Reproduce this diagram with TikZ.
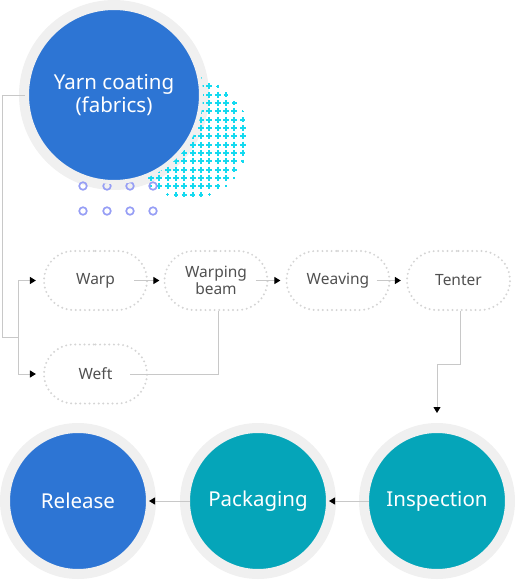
\documentclass[tikz,border=0pt]{standalone}
\usepackage{fontspec}
\setmainfont{Noto Sans}
\usetikzlibrary{arrows.meta,calc,shapes.misc}
\definecolor{cblue}{RGB}{45,117,212}
\definecolor{cteal}{RGB}{5,165,185}
\definecolor{cring}{RGB}{240,240,240}
\definecolor{ccyan}{RGB}{20,218,240}
\definecolor{cpurple}{RGB}{150,158,245}
\definecolor{cline}{RGB}{200,200,200}
\definecolor{ctext}{RGB}{80,80,80}
\definecolor{cdot}{RGB}{212,212,212}
\begin{document}
\begin{tikzpicture}[x=1pt,y=-1pt,
  bigcircle/.style={circle, minimum size=146pt, inner sep=0pt, text=white,
    font=\fontsize{20.5}{24}\selectfont, draw=cring, line width=10pt},
  pill/.style={rounded rectangle, draw=cdot, line width=2.2pt,
    dash pattern=on 0pt off 4.6pt, line cap=round,
    minimum width=103pt, minimum height=59pt, inner sep=0pt,
    text=ctext, font=\fontsize{15.5}{15}\selectfont, align=center},
  link/.style={draw=cline, line width=1pt},
  arr/.style={link, -{Triangle[length=6pt,width=7pt,color=black]}},
  plus/.style={draw=ccyan},
  smallring/.style={draw=cpurple, line width=1.7pt}]
\useasboundingbox (0,0) rectangle (515,582);
% top decoration
\fill[cring] (114,95) circle (95);
\foreach \i in {0,...,15} {
  \foreach \j in {0,...,15} {
    \pgfmathsetmacro{\px}{134.4+8.33*\i}
    \pgfmathsetmacro{\py}{78+8.33*\j}
    \pgfmathsetmacro{\dd}{sqrt((\px-188)^2+(\py-138)^2)}
    \pgfmathsetmacro{\ss}{min(1,(64-\dd)/8)}
    \ifdim\ss pt>0.25pt
      \pgfmathsetmacro{\aa}{2.9*\ss}
      \pgfmathsetmacro{\ww}{1.0+1.1*\ss}
      \draw[plus, line width=\ww pt] (\px-\aa,\py) -- (\px+\aa,\py) (\px,\py-\aa) -- (\px,\py+\aa);
    \fi
  }
}
\foreach \x in {83,107,130,153} {
  \foreach \y in {186,211} {
    \draw[smallring] (\x,\y) circle (3.8);
  }
}
\node[circle, minimum size=174pt, inner sep=0pt, fill=cblue, draw=cring, line width=4pt,
  text=white, font=\fontsize{20.5}{23}\selectfont, align=center] (yarn) at (114,95)
  {Yarn coating\\(fabrics)};
% pills
\node[pill] (warp) at (95.5,280.5) {Warp};
\node[pill] (beam) at (216,280.5) {Warping\\beam};
\node[pill] (weave) at (338,280.5) {Weaving};
\node[pill] (tenter) at (458.5,280.5) {Tenter};
\node[pill] (weft) at (95.5,374) {Weft};
% bottom circles
\node[bigcircle, fill=cblue] (release) at (78,501) {Release};
\node[bigcircle, fill=cteal] (pack) at (258,501) {Packaging};
\node[bigcircle, fill=cteal] (insp) at (437,501) {Inspection};
% connectors
\coordinate (c1) at (2,95);
\coordinate (j2) at (18,337);
\coordinate (t1) at (437,364);
\draw[link] (yarn.west) -- (c1) |- (j2);
\draw[arr] (j2) |- ([xshift=-7pt]warp.west);
\draw[arr] (j2) |- ([xshift=-7pt]weft.west);
\draw[arr] ([xshift=-14pt]warp.east) -- ([xshift=-4pt]beam.west);
\draw[arr] ([xshift=-13pt]beam.east) -- ([xshift=-5pt]weave.west);
\draw[arr] ([xshift=-14pt]weave.east) -- ([xshift=-5pt]tenter.west);
\draw[link] ([xshift=2pt]beam.south) |- ([xshift=-18pt]weft.east);
\draw[arr] ([xshift=1.5pt]tenter.south) |- (t1) -- ([yshift=10pt]insp.north);
\draw[arr] ([xshift=10pt]insp.west) -- ([xshift=-7pt]pack.east);
\draw[arr] ([xshift=10pt]pack.west) -- ([xshift=-7pt]release.east);
\end{tikzpicture}
\end{document}
